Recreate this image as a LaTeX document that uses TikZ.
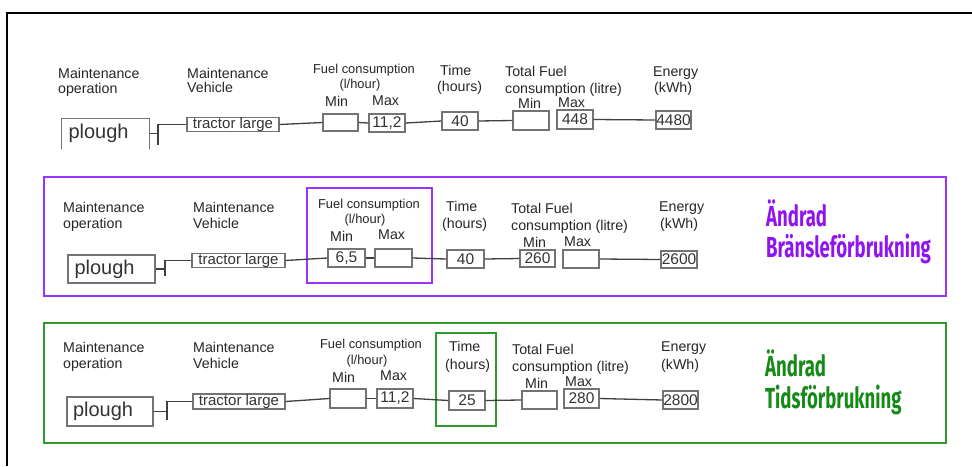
\documentclass[tikz,border=0pt]{standalone}
\usepackage{fontspec}
\setmainfont{Liberation Sans}
\newfontfamily\dispfont{Fira Sans}[FakeStretch=0.64]
\definecolor{pbox}{HTML}{9933FF}
\definecolor{ptext}{HTML}{8F14F0}
\definecolor{gbox}{HTML}{2E9A2E}
\definecolor{gtext}{HTML}{168A16}
\begin{document}
\begin{tikzpicture}[x=1pt,y=-1pt,
  lbl/.style={inner sep=0pt, font=\fontsize{14.2}{16}\selectfont, text=black!85, anchor=base west},
  clbl/.style={lbl, font=\fontsize{12.9}{15}\selectfont, anchor=base},
  vbox/.style={draw=black!55, line width=1.1pt, inner sep=0pt, text=black!80, font=\fontsize{15.5}{16}\selectfont},
  trbox/.style={vbox, font=\fontsize{15}{15}\selectfont},
  plbox/.style={vbox, font=\fontsize{20}{20}\selectfont, text width=74pt, align=left},
  edge/.style={draw=black!75, line width=1.3pt},
  frame/.style={draw=black, line width=2pt},
  big/.style={inner sep=0pt, font=\dispfont\bfseries\fontsize{29}{30}\selectfont, anchor=west}]
\useasboundingbox (0,0) rectangle (972,466);
\fill[white] (0,0) rectangle (972,466);
\draw[frame] (7,466) -- (7,13) -- (972,13);

% ---------------- Panel 1 ----------------
\node[lbl] (a1) at (58,78) {Maintenance};
\node[lbl] (a2) at (58,93) {operation};
\node[lbl] (b1) at (187,78) {Maintenance};
\node[lbl] (b2) at (187,92) {Vehicle};
\node[clbl] (c1) at (364,73) {Fuel consumption};
\node[clbl] (c2) at (360,88) {(l/hour)};
\node[lbl] (c3) at (325,106) {Min};
\node[lbl] (c4) at (372,105) {Max};
\node[lbl] (d1) at (440,75) {Time};
\node[lbl] (d2) at (437,91) {(hours)};
\node[lbl] (e1) at (505,76) {Total Fuel};
\node[lbl] (e2) at (505,93) {consumption (litre)};
\node[lbl] (e3) at (518,108) {Min};
\node[lbl] (e4) at (558,107) {Max};
\node[lbl] (f1) at (653,76) {Energy};
\node[lbl] (f2) at (654,92) {(kWh)};

\node[plbox, draw=none, minimum width=87pt, minimum height=29pt] (pl1) at (105.5,133.5) {plough};
\draw[vbox] (pl1.south west) |- (pl1.north east) -- (pl1.south east);
\node[trbox, minimum width=92pt, minimum height=13pt] (tr1) at (233,124.5) {tractor large};
\node[vbox, minimum width=35pt, minimum height=17pt] (fmin1) at (340.5,122.5) {};
\node[vbox, minimum width=36pt, minimum height=18pt] (fmax1) at (387,123) {11,2};
\node[vbox, minimum width=36pt, minimum height=18pt] (time1) at (460,121) {40};
\node[vbox, minimum width=36pt, minimum height=19pt] (tmin1) at (531,120.5) {};
\node[vbox, minimum width=36pt, minimum height=19pt] (tmax1) at (575,119.5) {448};
\node[vbox, minimum width=35pt, minimum height=18pt] (en1) at (673.5,120) {4480};
\coordinate (j1) at (158,145);
\draw[edge] (tr1.west) -| (j1);
\draw[edge] (pl1.east) -- (pl1.east -| j1);
\draw[edge] (tr1.east) -- (fmin1.west);
\draw[edge] (fmin1.east) -- (fmax1.west);
\draw[edge] (fmax1.east) -- (time1.west);
\draw[edge] (time1.east) -- (tmin1.west);
\draw[edge] (tmax1.east) -- (en1.west);

% ---------------- Panel 2 ----------------
\node[draw=pbox, line width=1.5pt, minimum width=902pt, minimum height=119pt, inner sep=0pt] (P2) at (495,236.5) {};
\node[draw=pbox, line width=1.3pt, minimum width=125pt, minimum height=95pt, inner sep=0pt] (H2) at (369.5,235.5) {};
\node[lbl] (a21) at (63,212) {Maintenance};
\node[lbl] (a22) at (63,228) {operation};
\node[lbl] (b21) at (193,212) {Maintenance};
\node[lbl] (b22) at (193,228) {Vehicle};
\node[clbl] (c21) at (369,208) {Fuel consumption};
\node[clbl] (c22) at (365,223) {(l/hour)};
\node[lbl] (c23) at (330,241) {Min};
\node[lbl] (c24) at (378,239) {Max};
\node[lbl] (d21) at (446,211) {Time};
\node[lbl] (d22) at (442,228) {(hours)};
\node[lbl] (e21) at (511,213) {Total Fuel};
\node[lbl] (e22) at (511,230) {consumption (litre)};
\node[lbl] (e23) at (523,247) {Min};
\node[lbl] (e24) at (564,246) {Max};
\node[lbl] (f21) at (659,211) {Energy};
\node[lbl] (f22) at (660,228) {(kWh)};

\node[plbox, minimum width=87pt, minimum height=28pt] (pl2) at (111.5,269) {plough};
\node[trbox, minimum width=93pt, minimum height=14pt] (tr2) at (238.5,260.5) {tractor large};
\node[vbox, minimum width=37pt, minimum height=18pt] (fmin2) at (346.5,258) {6,5};
\node[vbox, minimum width=37pt, minimum height=18pt] (fmax2) at (393.5,258) {};
\node[vbox, minimum width=37pt, minimum height=18pt] (time2) at (465.5,259) {40};
\node[vbox, minimum width=35pt, minimum height=17pt] (tmin2) at (537.5,258.5) {260};
\node[vbox, minimum width=36pt, minimum height=18pt] (tmax2) at (581,259) {};
\node[vbox, minimum width=36pt, minimum height=17pt] (en2) at (679,259.5) {2600};
\coordinate (j2) at (165,276);
\draw[edge] (tr2.west) -| (j2);
\draw[edge] (pl2.east) -- (pl2.east -| j2);
\draw[edge] (tr2.east) -- (fmin2.west);
\draw[edge] (fmin2.east) -- (fmax2.west);
\draw[edge] (fmax2.east) -- (time2.west);
\draw[edge] (time2.east) -- (tmin2.west);
\draw[edge] (tmax2.east) -- (en2.west);
\node[big, text=ptext] (g21) at (766,213) {Ändrad};
\node[big, text=ptext] (g22) at (766,249) {Bränsleförbrukning};

% ---------------- Panel 3 ----------------
\node[draw=gbox, line width=1.5pt, minimum width=902pt, minimum height=120pt, inner sep=0pt] (P3) at (495,383) {};
\node[draw=gbox, line width=1.3pt, minimum width=60pt, minimum height=93pt, inner sep=0pt] (H3) at (466,379.5) {};
\node[lbl] (a31) at (63,352) {Maintenance};
\node[lbl] (a32) at (63,368) {operation};
\node[lbl] (b31) at (193,352) {Maintenance};
\node[lbl] (b32) at (193,368) {Vehicle};
\node[clbl] (c31) at (371,348) {Fuel consumption};
\node[clbl] (c32) at (367,364) {(l/hour)};
\node[lbl] (c33) at (332,382) {Min};
\node[lbl] (c34) at (380,380) {Max};
\node[lbl] (d31) at (449,351) {Time};
\node[lbl] (d32) at (445,369) {(hours)};
\node[lbl] (e31) at (512,354) {Total Fuel};
\node[lbl] (e32) at (512,371) {consumption (litre)};
\node[lbl] (e33) at (525,388) {Min};
\node[lbl] (e34) at (565,386) {Max};
\node[lbl] (f31) at (661,351) {Energy};
\node[lbl] (f32) at (661,369) {(kWh)};

\node[plbox, minimum width=86pt, minimum height=29pt] (pl3) at (110,411.5) {plough};
\node[trbox, minimum width=92pt, minimum height=15pt] (tr3) at (239,401.5) {tractor large};
\node[vbox, minimum width=36pt, minimum height=19pt] (fmin3) at (348,398.5) {};
\node[vbox, minimum width=36pt, minimum height=19pt] (fmax3) at (395,398.5) {11,2};
\node[vbox, minimum width=36pt, minimum height=19pt] (time3) at (467,400.5) {25};
\node[vbox, minimum width=35pt, minimum height=18pt] (tmin3) at (539.5,400) {};
\node[vbox, minimum width=35pt, minimum height=19pt] (tmax3) at (581.5,398.5) {280};
\node[vbox, minimum width=35pt, minimum height=18pt] (en3) at (680.5,400) {2800};
\coordinate (j3) at (167,420);
\draw[edge] (tr3.west) -| (j3);
\draw[edge] (pl3.east) -- (pl3.east -| j3);
\draw[edge] (tr3.east) -- (fmin3.west);
\draw[edge] (fmin3.east) -- (fmax3.west);
\draw[edge] (fmax3.east) -- (time3.west);
\draw[edge] (time3.east) -- (tmin3.west);
\draw[edge] (tmax3.east) -- (en3.west);
\node[big, text=gtext] (g31) at (765,363) {Ändrad};
\node[big, text=gtext] (g32) at (765,400) {Tidsförbrukning};
\end{tikzpicture}
\end{document}
